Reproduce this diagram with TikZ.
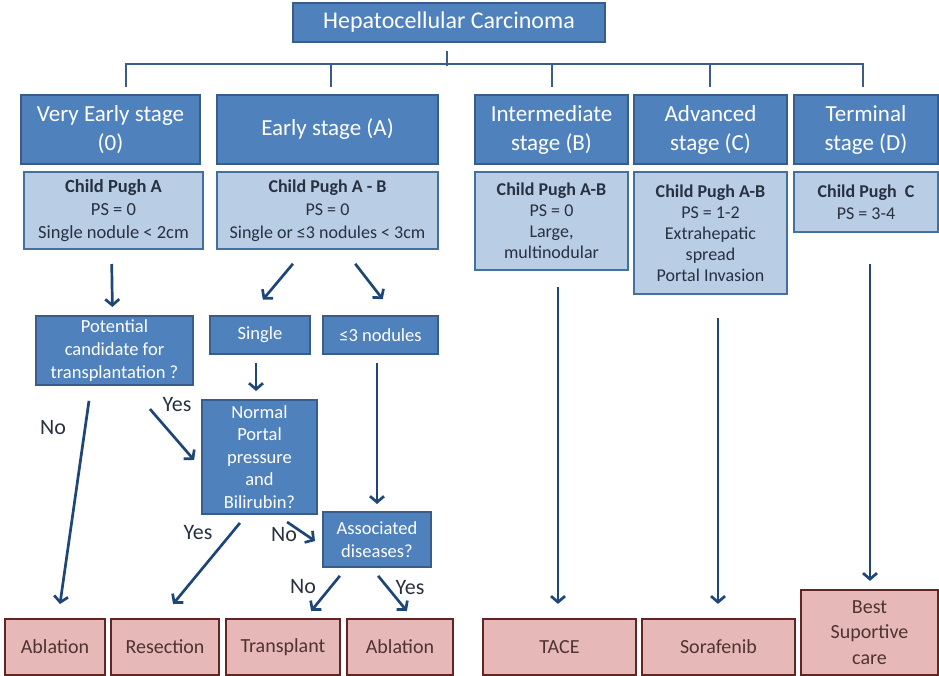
\documentclass[tikz,border=0pt]{standalone}
\usepackage{fontspec}
\setmainfont{Carlito}
\usetikzlibrary{arrows.meta}
\definecolor{boxblue}{HTML}{4F81BD}
\definecolor{boxedge}{HTML}{385D8A}
\definecolor{paleblue}{HTML}{B9CDE5}
\definecolor{paleedge}{HTML}{41719C}
\definecolor{pinkfill}{HTML}{E6B9B8}
\definecolor{pinkedge}{HTML}{632523}
\definecolor{arrowblue}{HTML}{1F4678}
\definecolor{darktext}{HTML}{28313F}
\definecolor{redtext}{HTML}{4F3332}

\begin{document}
\begin{tikzpicture}[x=1pt, y=-1pt,
  stagebox/.style={draw=boxedge, fill=boxblue, line width=2pt, text=white, align=center, inner sep=0pt, font=\fontsize{23}{29}\selectfont},
  critbox/.style={draw=paleedge, fill=paleblue, line width=2pt, text=darktext, align=center, inner sep=0pt, font=\fontsize{18.5}{23}\selectfont},
  qbox/.style={draw=boxedge, fill=boxblue, line width=2pt, text=white, align=center, inner sep=0pt, font=\fontsize{18.5}{23}\selectfont},
  treatbox/.style={draw=pinkedge, fill=pinkfill, line width=2.2pt, text=redtext, align=center, inner sep=0pt, font=\fontsize{20}{25.5}\selectfont},
  lbl/.style={text=darktext, font=\fontsize{22}{26}\selectfont, inner sep=0pt},
  arr/.style={draw=arrowblue, line width=2.7pt, -{Straight Barb[length=6pt,width=14pt,line width=2.7pt]}},
  bracket/.style={draw=boxedge, line width=2.5pt}]
\useasboundingbox (0,0) rectangle (939,676);
% --- Top: title and stages ---
\node[stagebox, minimum width=312pt, minimum height=39pt, font=\fontsize{24}{29}\selectfont] (hcc) at (449,22.5) {Hepatocellular Carcinoma};
\node[stagebox, minimum width=179pt, minimum height=69pt] (ve) at (110.5,129.5) {Very Early stage\\(0)};
\node[stagebox, minimum width=221pt, minimum height=69pt] (ea) at (327.5,129.5) {Early stage (A)};
\node[stagebox, minimum width=153pt, minimum height=69pt] (im) at (551.5,129.5) {Intermediate\\stage (B)};
\node[stagebox, minimum width=153pt, minimum height=69pt] (ad) at (710.5,129.5) {Advanced\\stage (C)};
\node[stagebox, minimum width=144pt, minimum height=69pt] (te) at (866,129.5) {Terminal\\stage (D)};
\draw[bracket] ([shift={(-2,8)}]hcc.south) -- ([shift={(-2,23)}]hcc.south);
\draw[bracket] ([shift={(15.5,-7)}]ve.north) |- ([shift={(-3,-30)}]te.north) -- ([shift={(-3,-7)}]te.north);
\foreach \n/\dx in {ea/3.5, im/0.5, ad/-0.5}
  \draw[bracket] ([shift={(\dx,-7)}]\n.north) -- ([shift={(\dx,-30)}]\n.north);
% --- Criteria ---
\node[critbox, minimum width=179pt, minimum height=77pt] (vec) at (113.5,210.5) {\textbf{Child Pugh A}\\PS = 0\\Single nodule < 2cm};
\node[critbox, minimum width=221pt, minimum height=77pt, font=\fontsize{18}{23}\selectfont] (eac) at (327.5,210.5) {\textbf{Child Pugh A - B}\\PS = 0\\Single or ≤3 nodules < 3cm};
\node[critbox, minimum width=153pt, minimum height=98pt, font=\fontsize{18}{21}\selectfont] (imc) at (551.5,221) {\textbf{Child Pugh A-B}\\PS = 0\\Large,\\multinodular};
\node[critbox, minimum width=153pt, minimum height=122pt, font=\fontsize{18}{21}\selectfont] (adc) at (710.5,233) {\textbf{Child Pugh A-B}\\PS = 1-2\\Extrahepatic\\spread\\Portal Invasion};
\node[critbox, minimum width=144pt, minimum height=60pt, font=\fontsize{18}{22}\selectfont] (tec) at (866,202) {\textbf{Child Pugh\ \ C}\\PS = 3-4};
% --- Questions ---
\node[qbox, minimum width=157pt, minimum height=69pt] (pot) at (114.5,350.5) {Potential\\candidate for\\transplantation ?};
\node[qbox, minimum width=100pt, minimum height=38pt] (sing) at (260,335) {Single};
\node[qbox, minimum width=115pt, minimum height=38pt] (nod) at (380.5,335) {≤3 nodules};
\node[qbox, minimum width=115pt, minimum height=114pt, font=\fontsize{18.5}{22.5}\selectfont] (norm) at (259.5,457) {Normal\\Portal\\pressure\\and\\Bilirubin?};
\node[qbox, minimum width=108pt, minimum height=55pt] (assoc) at (377,539.5) {Associated\\diseases?};
% --- Treatments ---
\node[treatbox, minimum width=100pt, minimum height=56pt] (abl1) at (55,647) {Ablation};
\node[treatbox, minimum width=108pt, minimum height=56pt] (res) at (165,647) {Resection};
\node[treatbox, minimum width=114pt, minimum height=56pt] (trans) at (283,647) {Transplant};
\node[treatbox, minimum width=106pt, minimum height=56pt] (abl2) at (400,647) {Ablation};
\node[treatbox, minimum width=153pt, minimum height=56pt] (tace) at (559.5,647) {TACE};
\node[treatbox, minimum width=153pt, minimum height=56pt] (sora) at (718.5,647) {Sorafenib};
\node[treatbox, minimum width=137pt, minimum height=85pt] (bsc) at (869.5,632.5) {Best\\Suportive\\care};
% --- Arrows ---
\draw[arr, shorten <=14pt, shorten >=8pt] ([xshift=-2pt]vec.south) -- ([xshift=-2pt]pot.north);
\draw[arr, shorten <=18pt, shorten >=20pt] ([xshift=-23pt]eac.south) -- ([xshift=-10pt]sing.north);
\draw[arr, shorten <=17.5pt, shorten >=20pt] ([xshift=17pt]eac.south) -- ([xshift=14.5pt]nod.north);
\draw[arr, shorten <=8pt, shorten >=8pt] ([xshift=-4pt]sing.south) -- ([xshift=-3.5pt]norm.north);
\draw[arr, shorten <=8pt, shorten >=7pt] ([xshift=-3.5pt]nod.south) -- (assoc.north);
\draw[arr, shorten <=15pt, shorten >=14pt] ([xshift=-23.4pt]pot.south) -- ([xshift=3pt]abl1.north);
\draw[arr, shorten <=30.5pt, shorten >=10.6pt] ([xshift=15.5pt]pot.south) -- ([yshift=-11pt]norm.west);
\draw[arr, shorten <=10.3pt, shorten >=18pt] ([xshift=-13pt]norm.south) -- ([xshift=-3.4pt]res.north);
\draw[arr, shorten <=12.4pt, shorten >=8.5pt] ([xshift=17.3pt]norm.south) -- ([yshift=-6.3pt]assoc.west);
\draw[arr, shorten <=10.2pt, shorten >=8.9pt] ([xshift=-30.7pt]assoc.south) -- ([xshift=22.5pt]trans.north);
\draw[arr, shorten <=10.2pt, shorten >=8.9pt] ([xshift=-5.3pt]assoc.south) -- ([xshift=12.5pt]abl2.north);
\draw[arr, shorten <=16pt, shorten >=14pt] ([xshift=6.5pt]imc.south) -- ([xshift=-1.5pt]tace.north);
\draw[arr, shorten <=23pt, shorten >=14pt] ([xshift=7.5pt]adc.south) -- ([xshift=-0.5pt]sora.north);
\draw[arr, shorten <=31pt, shorten >=8pt] ([xshift=4pt]tec.south) -- ([xshift=0.5pt]bsc.north);
% --- Labels ---
\node[lbl] (no1) at (53,428) {No};
\node[lbl] (yes1) at (177,405) {Yes};
\node[lbl] (yes2) at (198,533) {Yes};
\node[lbl] (no2) at (284,535) {No};
\node[lbl] (no3) at (303,587) {No};
\node[lbl] (yes3) at (410,588) {Yes};
\end{tikzpicture}
\end{document}
